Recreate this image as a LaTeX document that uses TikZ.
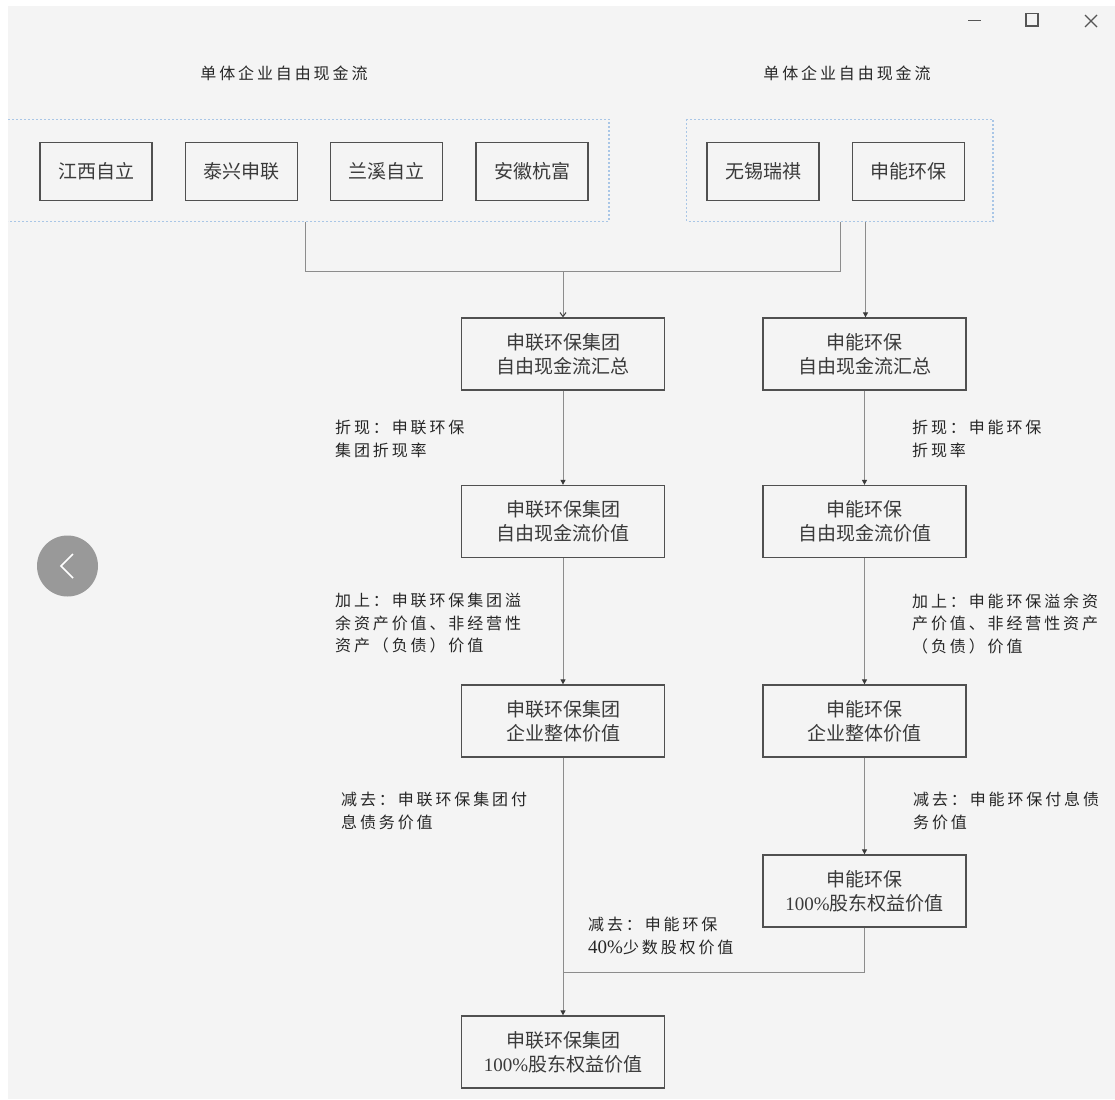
\documentclass[tikz,border=0pt]{standalone}
\usepackage{fontspec}
\setmainfont{Liberation Serif}
\newfontfamily\cjk{Noto Sans CJK SC}
\newfontfamily\cjklab[LetterSpace=18]{Noto Sans CJK SC}
\newfontfamily\lat{Liberation Serif}
\usetikzlibrary{arrows.meta}
\definecolor{panel}{HTML}{F4F4F4}
\definecolor{boxc}{HTML}{505050}
\definecolor{connc}{HTML}{8C8C8C}
\definecolor{txtc}{HTML}{3A3A3A}
\definecolor{labc}{HTML}{262626}
\definecolor{grpc}{HTML}{A9C6E6}
\definecolor{btnc}{HTML}{999999}
\definecolor{winc}{HTML}{555555}
\tikzset{
  boxbase/.style={draw=boxc, line width=1.3pt, fill=panel, inner sep=0pt, text=txtc, align=center},
  topbox/.style={boxbase, minimum width=112pt, minimum height=58pt, font=\cjk\fontsize{19}{24}\selectfont},
  midbox/.style={boxbase, minimum width=203pt, minimum height=72pt, font=\cjk\fontsize{19}{24}\selectfont},
  lab/.style={inner sep=0pt, align=left, text=labc, font=\cjklab\fontsize{16}{22.5}\selectfont},
  conn/.style={draw=connc, line width=1pt},
  arr/.style={-{Triangle[length=5pt,width=5pt,color=txtc]}},
  openarr/.style={-{Straight Barb[length=4pt,width=6pt,color=txtc]}},
  grp/.style={draw=grpc, line width=1.2pt, dash pattern=on 2pt off 2pt}
}
\begin{document}
\begin{tikzpicture}[x=1pt,y=-1pt]
\useasboundingbox (0,0) rectangle (1115,1099);
\fill[white] (0,0) rectangle (1115,1099);
\fill[panel] (8,6) rectangle (1115,1099);

% window controls
\draw[winc, line width=1.6pt] (968,20.5) -- (981,20.5);
\draw[winc, line width=1.3pt] (1026,13.5) rectangle (1038,26);
\draw[winc, line width=1.3pt] (1085,15) -- (1097,27) (1097,15) -- (1085,27);

% back button
\fill[btnc] (67.5,566) circle (30.5);
\draw[white, line width=1.6pt] (73,554) -- (61,566) -- (73,578);

% titles
\node[lab] (h1) at (284,73) {单体企业自由现金流};
\node[lab] (h2) at (847,73) {单体企业自由现金流};

% groups
\draw[grp] (8,119.5) -- (609,119.5) -- (609,221.5) -- (8,221.5);
\draw[grp] (686.5,119.5) rectangle (993,221.5);

% top boxes
\node[topbox] (jx) at (96,171.5) {江西自立};
\node[topbox] (tx) at (241.5,171.5) {泰兴申联};
\node[topbox] (lx) at (386.5,171.5) {兰溪自立};
\node[topbox] (ah) at (532,171.5) {安徽杭富};
\node[topbox] (wx) at (763,171.5) {无锡瑞祺};
\node[topbox] (sn) at (908.5,171.5) {申能环保};

% middle boxes
\node[midbox] (L1) at (563,354) {申联环保集团\\自由现金流汇总};
\node[midbox] (R1) at (864.5,354) {申能环保\\自由现金流汇总};
\node[midbox] (L2) at (563,521.5) {申联环保集团\\自由现金流价值};
\node[midbox] (R2) at (864.5,521.5) {申能环保\\自由现金流价值};
\node[midbox] (L3) at (563,721) {申联环保集团\\企业整体价值};
\node[midbox] (R3) at (864.5,721) {申能环保\\企业整体价值};
\node[midbox] (R4) at (864.5,891) {申能环保\\{\lat 100\%}股东权益价值};
\node[midbox] (L5) at (563,1052) {申联环保集团\\{\lat 100\%}股东权益价值};

% connectors from groups
\coordinate (gl) at (305,222);
\coordinate (gr1) at (840.5,222);
\coordinate (gr2) at (865.5,222);
\coordinate (j1) at (563,271);
\coordinate (j2) at (563,972);
\draw[conn] (gl) |- (gr1 |- j1) -- (gr1);
\draw[conn, openarr] (j1) -- (L1.north);
\draw[conn, arr] (gr2) -- (gr2 |- R1.north);

% chain connectors
\draw[conn, arr] (L1) -- (L2);
\draw[conn, arr] (R1) -- (R2);
\draw[conn, arr] (L2) -- (L3);
\draw[conn, arr] (R2) -- (R3);
\draw[conn, arr] (R3) -- (R4);
\draw[conn, arr] (L3) -- (L5);
\draw[conn] (R4.south) |- (j2);

% labels
\node[lab, anchor=west] (t1) at (335,439) {折现：申联环保\\集团折现率};
\node[lab, anchor=west] (t2) at (912,439) {折现：申能环保\\折现率};
\node[lab, anchor=west] (t3) at (335,623.5) {加上：申联环保集团溢\\余资产价值、非经营性\\资产（负债）价值};
\node[lab, anchor=west] (t4) at (912,623.5) {加上：申能环保溢余资\\产价值、非经营性资产\\（负债）价值};
\node[lab, anchor=west] (t5) at (341,811) {减去：申联环保集团付\\息债务价值};
\node[lab, anchor=west] (t6) at (913,811) {减去：申能环保付息债\\务价值};
\node[lab, anchor=west] (t7) at (588,936) {减去：申能环保\\{\lat\fontsize{19}{22.5}\selectfont 40\%}少数股权价值};
\end{tikzpicture}
\end{document}
